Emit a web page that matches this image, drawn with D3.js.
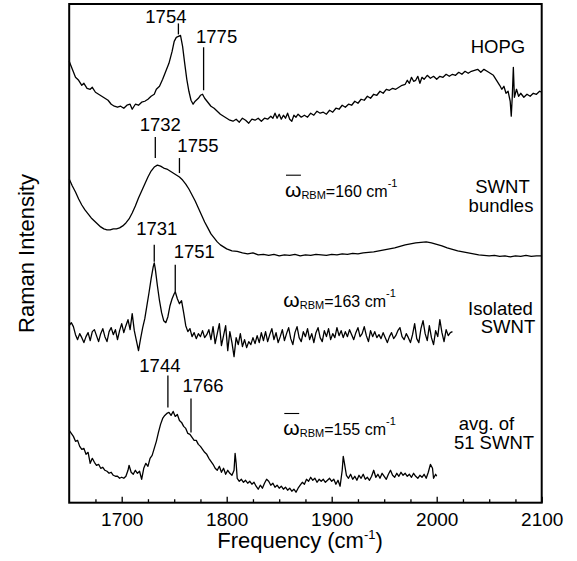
<!DOCTYPE html>
<html>
<head>
<meta charset="utf-8">
<script src="https://cdn.jsdelivr.net/npm/d3@7"></script>
<style>
  body { margin: 0; background: #fff; }
  svg { display: block; }
  text { font-family: "Liberation Sans", Arial, Helvetica, sans-serif; fill: #000; }
</style>
</head>
<body>
<div id="chart"></div>
<script>
// x axis ticks (cm^-1)
const freqTicks = [1700, 1800, 1900, 2000, 2100];
const minorTicks = [1675, 1725, 1750, 1775, 1825, 1850, 1875, 1925, 1950, 1975, 2025, 2050, 2075];

// spectra: [frequency, intensity (arb. units, relative to own baseline)]
const hopg = [
  [1650,13.5],[1653,11.9],[1656,10.3],[1659,9.7],[1662,8.7],[1664,9.1],[1667,8.1],[1670,7.9],[1672,8.3],
  [1675,7.3],[1678,6.9],[1681,6.5],[1684,6.1],[1687,5.7],[1690,4.9],[1693,4.5],[1696,4.3],[1699,4.5],
  [1702,4.1],[1705,4.7],[1708,4.9],[1710,3.9],[1713,4.9],[1716,4.7],[1719,5.3],[1722,5.5],[1725,5.9],
  [1728,6.5],[1731,6.9],[1733,7.9],[1736,8.5],[1739,9.9],[1742,11.5],[1745,13.1],[1748,15.5],[1750,17.5],
  [1752,18.3],[1754,18.5],[1756,18.7],[1758,16.5],[1760,13.1],[1762,9.9],[1764,7.5],[1766,5.7],[1768,4.9],
  [1770,5.5],[1773,6.1],[1775,6.7],[1777,6.9],[1779,6.1],[1782,5.3],[1785,4.5],[1788,4.1],[1791,3.5],
  [1794,2.9],[1797,2.5],[1800,2.1],[1803,1.7],[1806,1.5],[1809,1.9],[1812,1.3],[1815,2.1],[1818,1.7],
  [1821,1.1],[1824,1.9],[1827,1.7],[1830,2.1],[1833,1.5],[1836,2.1],[1839,1.9],[1842,2.5],[1844,2.1],
  [1846,3.1],[1848,2.1],[1850,2.9],[1852,1.9],[1854,2.7],[1856,2.1],[1858,3.1],[1860,1.9],[1862,1.5],
  [1864,2.7],[1866,2.3],[1868,2.9],[1871,2.3],[1874,2.7],[1877,2.3],[1880,3.1],[1883,2.7],[1886,3.5],
  [1889,3.1],[1892,3.3],[1895,2.9],[1898,3.7],[1901,3.3],[1904,4.1],[1907,3.9],[1910,4.7],[1913,4.3],
  [1916,4.9],[1919,4.7],[1922,5.5],[1925,5.1],[1928,5.9],[1931,5.7],[1934,6.5],[1937,6.1],[1940,6.9],
  [1943,6.7],[1946,7.5],[1949,7.1],[1952,7.9],[1955,7.7],[1958,8.1],[1961,7.9],[1964,8.3],[1967,8.7],
  [1970,8.9],[1972,9.7],[1974,9.1],[1976,10.3],[1978,9.5],[1980,9.7],[1982,10.5],[1984,9.1],[1986,10.3],
  [1988,9.9],[1991,10.7],[1994,10.1],[1997,10.5],[2000,9.9],[2003,10.5],[2006,10.3],[2009,10.9],[2012,10.5],
  [2015,10.9],[2018,10.7],[2021,11.3],[2024,10.9],[2027,11.5],[2030,11.1],[2033,11.5],[2036,11.7],[2039,11.9],
  [2042,11.3],[2045,11.9],[2048,11.5],[2051,11.1],[2054,10.7],[2057,9.7],[2060,8.7],[2062,7.9],[2064,8.5],
  [2066,7.1],[2068,7.5],[2070,5.5],[2071,2.5],[2072,6.5],[2073,12.3],[2074,6.3],[2076,7.9],[2078,6.5],
  [2080,7.1],[2083,6.3],[2086,6.9],[2089,6.5],[2092,7.1],[2095,6.9],[2098,7.5],[2100,7.3]
];

const bundles = [
  [1650,15.9],[1653,14.5],[1656,13.3],[1659,11.9],[1662,10.7],[1665,9.7],[1668,8.9],[1671,8.1],[1674,7.5],
  [1677,6.9],[1680,6.3],[1683,5.9],[1686,5.7],[1689,5.7],[1692,5.9],[1695,5.9],[1698,6.1],[1701,6.5],
  [1704,7.1],[1707,7.9],[1710,9.1],[1713,10.5],[1716,12.1],[1719,13.5],[1722,14.9],[1725,16.3],[1728,17.5],
  [1731,18.3],[1734,18.7],[1737,18.5],[1740,18.1],[1743,17.9],[1746,17.5],[1749,17.1],[1752,16.7],[1755,16.3],
  [1758,15.7],[1761,14.9],[1764,13.9],[1767,12.7],[1770,11.5],[1773,10.1],[1776,8.7],[1779,7.3],[1782,6.1],
  [1785,4.9],[1788,4.1],[1791,3.3],[1794,2.7],[1797,2.3],[1800,1.9],[1805,1.5],[1810,1.4],[1815,1.1],
  [1820,0.9],[1825,1.1],[1830,0.7],[1835,0.8],[1840,0.6],[1845,0.8],[1850,0.5],[1855,0.7],[1860,0.6],
  [1865,0.8],[1870,0.5],[1875,0.7],[1880,0.6],[1885,0.8],[1890,0.7],[1895,0.6],[1900,0.8],[1905,0.7],
  [1910,0.9],[1915,0.8],[1920,1.0],[1925,0.9],[1930,1.1],[1935,1.2],[1940,1.3],[1945,1.5],[1950,1.7],
  [1955,1.9],[1960,2.1],[1965,2.4],[1970,2.7],[1975,2.9],[1980,3.1],[1985,3.2],[1990,3.3],[1995,3.1],
  [2000,2.8],[2005,2.5],[2010,2.1],[2015,1.8],[2020,1.5],[2025,1.3],[2030,1.1],[2035,0.9],[2040,0.7],
  [2045,0.6],[2050,0.5],[2055,0.6],[2060,0.4],[2065,0.5],[2070,0.3],[2075,0.5],[2080,0.4],[2085,0.6],
  [2090,0.4],[2095,0.5],[2100,0.5]
];

const isolated = [
  [1650,3.5],[1652,4.1],[1654,3.3],[1656,1.7],[1658,0.7],[1660,1.9],[1662,1.1],[1664,0.1],[1666,1.3],
  [1668,2.1],[1670,0.5],[1672,2.3],[1674,2.7],[1676,1.5],[1678,0.3],[1680,1.9],[1682,2.9],[1684,1.3],
  [1686,0.3],[1688,2.3],[1690,3.1],[1692,1.7],[1694,2.7],[1696,0.7],[1698,2.5],[1700,3.9],[1702,2.1],
  [1704,3.5],[1706,4.7],[1708,2.7],[1710,5.9],[1712,2.5],[1714,0.5],[1716,-1.5],[1718,0.9],[1720,3.1],
  [1722,4.9],[1724,7.5],[1726,10.1],[1728,12.9],[1730,15.3],[1731,16.1],[1732,14.9],[1734,11.5],[1736,8.5],
  [1738,6.1],[1740,4.5],[1742,4.1],[1744,5.3],[1746,7.5],[1748,8.9],[1750,9.9],[1751,10.3],[1753,8.9],
  [1755,7.9],[1757,8.5],[1759,6.1],[1761,3.5],[1763,2.3],[1765,2.9],[1767,1.3],[1769,2.1],[1771,0.9],
  [1773,1.9],[1775,1.3],[1777,2.5],[1779,1.1],[1781,1.7],[1783,2.7],[1785,0.7],[1787,3.3],[1789,-0.1],
  [1791,1.9],[1793,3.9],[1795,-0.5],[1797,1.5],[1799,3.5],[1801,-1.5],[1803,2.3],[1805,0.1],[1807,-2.7],
  [1809,1.1],[1811,-0.3],[1813,1.9],[1815,-0.7],[1817,0.7],[1819,-0.9],[1821,0.3],[1823,-0.3],[1825,1.1],
  [1827,-0.1],[1829,1.5],[1831,0.1],[1833,2.1],[1835,0.5],[1837,2.3],[1839,0.3],[1841,1.7],[1843,2.9],
  [1845,0.7],[1847,2.1],[1849,0.1],[1851,1.3],[1853,2.7],[1855,0.5],[1857,1.9],[1859,3.1],[1861,0.9],
  [1863,-0.3],[1865,2.1],[1867,3.3],[1869,1.1],[1871,0.3],[1873,2.3],[1875,1.3],[1877,2.9],[1879,0.7],
  [1881,1.9],[1883,0.1],[1885,2.1],[1887,3.1],[1889,1.1],[1891,0.3],[1893,2.5],[1895,1.3],[1897,2.9],
  [1899,0.7],[1901,1.9],[1903,1.1],[1905,3.1],[1907,1.5],[1909,2.5],[1911,1.1],[1913,2.3],[1915,1.3],
  [1917,2.7],[1919,1.7],[1921,0.7],[1923,2.1],[1925,3.1],[1927,1.3],[1929,1.9],[1931,3.3],[1933,1.5],
  [1935,0.3],[1937,2.5],[1939,1.3],[1941,2.3],[1943,1.1],[1945,1.7],[1947,0.9],[1949,2.1],[1951,1.1],
  [1953,0.1],[1955,1.3],[1957,2.1],[1959,0.9],[1961,1.5],[1963,2.5],[1965,3.1],[1967,1.3],[1969,0.7],
  [1971,1.9],[1973,1.1],[1975,0.1],[1977,1.7],[1979,3.9],[1981,0.9],[1983,0.1],[1985,2.9],[1987,4.5],
  [1989,1.9],[1991,0.5],[1993,3.5],[1995,1.1],[1997,-0.3],[1999,2.5],[2001,1.3],[2003,4.7],[2005,2.1],
  [2007,0.3],[2009,2.7],[2011,1.5],[2013,2.1],[2015,2.3]
];

const average = [
  [1650,10.5],[1652,9.9],[1654,9.3],[1656,8.3],[1658,8.5],[1660,7.3],[1662,6.7],[1664,6.9],[1666,5.7],
  [1668,6.1],[1670,3.9],[1672,4.9],[1674,4.1],[1676,3.5],[1678,3.7],[1680,2.9],[1682,3.1],[1684,2.5],
  [1686,2.3],[1688,1.9],[1690,2.1],[1692,1.5],[1694,1.3],[1696,1.3],[1698,0.9],[1700,1.1],[1702,0.9],
  [1704,1.3],[1706,2.5],[1707,3.5],[1709,2.1],[1711,1.7],[1713,2.5],[1715,1.9],[1717,2.3],[1719,0.7],
  [1721,2.9],[1723,3.9],[1725,3.3],[1727,4.9],[1729,5.5],[1731,6.9],[1733,8.3],[1735,10.1],[1737,11.7],
  [1739,12.9],[1741,13.5],[1743,13.9],[1745,14.1],[1747,13.5],[1749,14.3],[1751,13.3],[1753,13.7],[1755,12.5],
  [1757,12.1],[1759,11.3],[1761,10.9],[1763,9.9],[1765,9.7],[1767,9.1],[1769,8.5],[1771,8.5],[1773,7.7],
  [1775,7.3],[1777,6.7],[1779,6.1],[1781,5.7],[1783,4.9],[1785,4.3],[1787,3.7],[1789,2.9],[1791,2.5],
  [1793,3.3],[1795,2.1],[1797,2.9],[1799,1.7],[1801,2.5],[1803,1.9],[1805,1.5],[1807,2.5],[1808,5.9],
  [1809,3.9],[1810,0.9],[1812,0.3],[1814,0.7],[1816,0.1],[1818,0.5],[1820,-0.1],[1822,0.3],[1824,-0.3],
  [1826,0.1],[1828,-0.7],[1830,-1.3],[1832,-0.5],[1834,-1.1],[1836,-0.1],[1838,0.7],[1840,0.3],[1842,-0.5],
  [1844,-0.1],[1846,-0.9],[1848,-0.5],[1850,-1.1],[1852,-0.7],[1854,-1.3],[1856,-0.9],[1858,-1.5],[1860,-1.1],
  [1862,-1.7],[1864,-1.3],[1866,-1.9],[1868,-1.1],[1870,-0.5],[1872,0.1],[1874,-0.3],[1876,0.7],[1878,0.3],
  [1880,1.1],[1882,0.5],[1884,0.9],[1886,0.1],[1888,0.7],[1890,0.3],[1892,0.7],[1894,0.1],[1896,0.5],
  [1898,0.9],[1900,0.3],[1902,0.7],[1904,-0.3],[1906,0.5],[1908,-0.7],[1910,2.5],[1911,5.3],[1912,4.1],
  [1914,1.5],[1916,0.9],[1918,1.7],[1920,0.7],[1922,1.3],[1924,0.5],[1926,1.5],[1928,0.9],[1930,1.7],
  [1932,0.7],[1934,1.1],[1936,0.5],[1938,1.3],[1940,2.5],[1942,1.1],[1944,1.7],[1946,0.9],[1948,1.9],
  [1950,1.3],[1952,0.7],[1954,1.7],[1956,2.5],[1958,1.5],[1960,1.1],[1962,1.9],[1964,1.3],[1966,2.1],
  [1968,1.5],[1970,1.9],[1972,1.3],[1974,1.7],[1976,1.1],[1978,1.9],[1980,1.3],[1982,0.9],[1984,1.5],
  [1986,1.1],[1988,1.7],[1990,0.9],[1992,2.1],[1994,3.7],[1996,2.9],[1997,0.9],[1999,1.7],[2000,1.3]
];

const spectra = [hopg, bundles, isolated, average];
const spectrumOffsets = [75, 49, 32, 4];
const sampleLabels = [['HOPG'], ['SWNT', 'bundles'], ['Isolated', 'SWNT'], ['avg. of', '51 SWNT']];

// peak markers
const peakLabels = ['1754', '1775', '1732', '1755', '1731', '1751', '1744', '1766'];
const peakPositions = [1754, 1778, 1732, 1755, 1731, 1751, 1744, 1766];
const peakSpectrum = [0, 0, 1, 1, 2, 2, 3, 3];

// RBM frequency notes
const rbmValues = [160, 163, 155];
const rbmSpectrum = [1, 2, 3];
const rbmAveraged = [true, false, true];

// layout
const width = 577, height = 561;
const margin = {top: 4, right: 35.3, bottom: 58.3, left: 69.2};
const innerWidth = width - margin.left - margin.right;
const innerHeight = height - margin.top - margin.bottom;

// marker line gap / length / label offset (px)
const peakLayout = [
  {gap: 2, len: 11, dx: -12.5, dy: 0},
  {gap: 4, len: 43, dx: 13, dy: -4},
  {gap: 9, len: 21, dx: 5, dy: -6},
  {gap: 4, len: 15, dx: 18.5, dy: -6},
  {gap: 1, len: 17, dx: 2.5, dy: -10},
  {gap: 0, len: 27, dx: 19, dy: -7},
  {gap: 6, len: 32, dx: -8, dy: -3},
  {gap: 2, len: 34, dx: 12, dy: -6}
];
const sampleLabelPos = [
  [[498, 52.7]],
  [[502.5, 193], [501, 211.7]],
  [[500.5, 315], [508, 332.7]],
  [[486.5, 430], [494, 449.3]]
];
const rbmLabelPos = [[285, 196.7], [283.3, 306.7], [283.3, 435]];

const xScale = d3.scaleLinear().domain([1650, 2100]).range([0, innerWidth]);
const yScale = d3.scaleLinear().domain([0, 100]).range([innerHeight, 0]);

const svg = d3.select('#chart').append('svg')
  .attr('width', width)
  .attr('height', height);

const g = svg.append('g')
  .attr('transform', `translate(${margin.left},${margin.top})`);

// spectra
spectra.forEach((s, i) => {
  const off = spectrumOffsets[i];
  const line = d3.line()
    .x(d => xScale(d[0]))
    .y(d => yScale(d[1] + off));
  g.append('path')
    .datum(s)
    .attr('fill', 'none')
    .attr('stroke', '#000')
    .attr('stroke-width', 1.3)
    .attr('stroke-linejoin', 'round')
    .attr('d', line);
});

// peak markers
const nearest = (s, f) => s.reduce((a, b) => Math.abs(b[0] - f) < Math.abs(a[0] - f) ? b : a);
peakLabels.forEach((lab, i) => {
  const si = peakSpectrum[i];
  const p = nearest(spectra[si], peakPositions[i]);
  const L = peakLayout[i];
  const x = xScale(peakPositions[i]);
  const yBottom = yScale(p[1] + spectrumOffsets[si]) - L.gap;
  const yTop = yBottom - L.len;
  g.append('line')
    .attr('x1', x).attr('x2', x)
    .attr('y1', yBottom).attr('y2', yTop)
    .attr('stroke', '#000')
    .attr('stroke-width', 1.3);
  g.append('text')
    .attr('x', x + L.dx)
    .attr('y', yTop + L.dy)
    .attr('text-anchor', 'middle')
    .attr('font-size', 18.5)
    .text(lab);
});

// x axis
const xAxis = d3.axisBottom(xScale)
  .tickValues(freqTicks)
  .tickFormat(d3.format('d'))
  .tickSize(-6)
  .tickPadding(10);

const xAxisMinor = d3.axisBottom(xScale)
  .tickValues(minorTicks)
  .tickFormat('')
  .tickSize(-3.5);

const xAxisG = g.append('g')
  .attr('transform', `translate(0,${innerHeight})`)
  .call(xAxis);
xAxisG.attr('font-size', 19).attr('font-family', null);
xAxisG.select('.domain').remove();
xAxisG.selectAll('line').attr('stroke-width', 1.3);

const xMinorG = g.append('g')
  .attr('transform', `translate(0,${innerHeight})`)
  .call(xAxisMinor);
xMinorG.select('.domain').remove();
xMinorG.selectAll('line').attr('stroke-width', 1.3);

// frame
g.append('rect')
  .attr('width', innerWidth)
  .attr('height', innerHeight)
  .attr('fill', 'none')
  .attr('stroke', '#000')
  .attr('stroke-width', 2);

// axis labels
const xLabel = svg.append('text')
  .attr('x', 300)
  .attr('y', 548)
  .attr('text-anchor', 'middle')
  .attr('font-size', 22);
xLabel.append('tspan').text('Frequency (cm');
xLabel.append('tspan').attr('font-size', 13).attr('dy', -9).text('-1');
xLabel.append('tspan').attr('dy', 9).text(')');

svg.append('text')
  .attr('transform', 'translate(33.5,253.5) rotate(-90)')
  .attr('text-anchor', 'middle')
  .attr('font-size', 22)
  .text('Raman Intensity');

// sample names
sampleLabels.forEach((lines, i) => {
  lines.forEach((t, j) => {
    svg.append('text')
      .attr('x', sampleLabelPos[i][j][0])
      .attr('y', sampleLabelPos[i][j][1])
      .attr('text-anchor', 'middle')
      .attr('font-size', 18.5)
      .text(t);
  });
});

// RBM notes
rbmValues.forEach((v, i) => {
  const [x0, y0] = rbmLabelPos[i];
  const t = svg.append('text')
    .attr('x', x0)
    .attr('y', y0);
  const om = t.append('tspan').attr('font-size', 21).text('ω');
  t.append('tspan').attr('font-size', 11).attr('dy', 2).text('RBM');
  t.append('tspan').attr('font-size', 16).attr('dy', -2).text(`=${v} cm`);
  t.append('tspan').attr('font-size', 11).attr('dy', -10).text('-1');
  if (rbmAveraged[i]) {
    const w = om.node().getComputedTextLength();
    svg.append('line')
      .attr('x1', x0 + 1).attr('x2', x0 + w - 0.5)
      .attr('y1', y0 - 21.5).attr('y2', y0 - 21.5)
      .attr('stroke', '#000')
      .attr('stroke-width', 1.1);
  }
});
</script>
</body>
</html>
